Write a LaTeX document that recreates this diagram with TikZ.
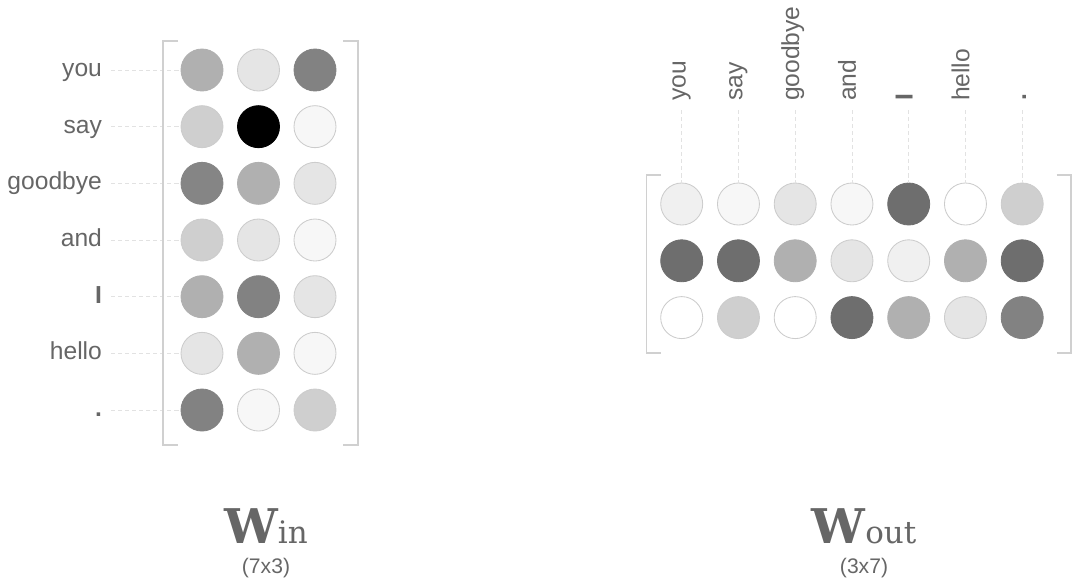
\documentclass[tikz,border=0pt]{standalone}
\usepackage{fontspec}
\setmainfont{Liberation Sans}
\newfontfamily\wfont{DejaVu Serif}
\usetikzlibrary{positioning}

\definecolor{txtgray}{HTML}{666666}
\definecolor{brkgray}{HTML}{D0D0D0}
\definecolor{dashgray}{HTML}{E2E2E2}

\tikzset{
    cell/.style={circle, minimum size=1.05cm, inner sep=0pt, line width=0.6pt},
    word/.style={text=txtgray, font=\fontsize{17.5}{20}\selectfont, inner sep=2pt},
    guide/.style={draw=dashgray, dash pattern=on 3pt off 2pt, line width=0.5pt, shorten <=0.15cm},
    bracket/.style={draw=brkgray, line width=1pt},
    title/.style={text=txtgray, font=\wfont\fontsize{34}{34}\selectfont, inner sep=0pt},
    dim/.style={text=txtgray, font=\fontsize{15}{17}\selectfont, inner sep=0pt},
}

\begin{document}
\begin{tikzpicture}[x=0.025cm, y=-0.025cm]
    \useasboundingbox (0,0) rectangle (1072,580);

    % 输入层权重 W_in
    \foreach \w [count=\r] in {you,say,goodbye,and,\textbf{I},hello,\textbf{.}} {
        \node[word, anchor=base east] (lw-\r) at (105, {76.5+(\r-1)*56.67}) {\w};
    }
    \foreach \row [count=\r] in {{31,10,49},{19,100,3},{48,31,10},{19,10,3},{31,49,10},{10,31,3},{49,3,19}} {
        \foreach \g [count=\c] in \row {
            \pgfmathtruncatemacro\bd{max(\g,20)}
            \node[cell, fill=black!\g, draw=black!\bd] (L-\r-\c) at ({202+(\c-1)*56.5}, {70+(\r-1)*56.67}) {};
        }
        \draw[guide] (lw-\r.east |- L-\r-1.west) -- (L-\r-1.west);
    }
    % 括号
    \draw[bracket] (178,41) -- (163,41) -- (163,445) -- (178,445);
    \draw[bracket] (343,41) -- (358,41) -- (358,445) -- (343,445);

    % 输出层权重 W_out
    \foreach \w [count=\c] in {you,say,goodbye,and,\textbf{I},hello,\textbf{.}} {
        \node[word, rotate=90, anchor=base west] (tw-\c) at ({685.5+(\c-1)*56.75}, 104) {\w};
    }
    \foreach \row [count=\r] in {{6,3,10,3,57,0,19},{57,57,31,10,6,31,57},{0,19,0,57,31,10,49}} {
        \foreach \g [count=\c] in \row {
            \pgfmathtruncatemacro\bd{max(\g,20)}
            \node[cell, fill=black!\g, draw=black!\bd] (R-\r-\c) at ({681.7+(\c-1)*56.75}, {204+(\r-1)*56.8}) {};
        }
    }
    \foreach \c in {1,...,7} {
        \draw[guide] (R-1-\c.north |- tw-\c.west) -- (R-1-\c.north);
    }
    % 括号
    \draw[bracket] (661,175) -- (646.7,175) -- (646.7,353) -- (661,353);
    \draw[bracket] (1056.7,175) -- (1071,175) -- (1071,353) -- (1056.7,353);

    % 标签
    \node[title, anchor=base] (wIn) at (266, 543) {{\bfseries W}{\fontsize{22}{22}\selectfont in}};
    \node[dim, below=0.36cm of wIn] (dimIn) {(7x3)};
    \node[title, anchor=base] (wOut) at (864, 543) {{\bfseries W}{\fontsize{22}{22}\selectfont out}};
    \node[dim, below=0.36cm of wOut] (dimOut) {(3x7)};
\end{tikzpicture}
\end{document}
